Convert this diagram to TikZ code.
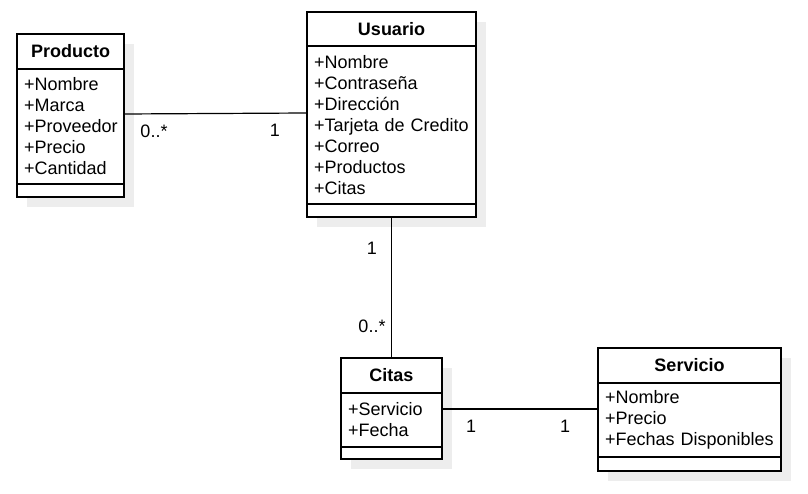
\documentclass[tikz,border=0pt]{standalone}
\usepackage{fontspec}
\setmainfont{Liberation Sans}
\usetikzlibrary{shadows}
\usetikzlibrary{calc}

\tikzset{
  umlpart/.style={draw, line width=1.2pt, fill=white, anchor=north west, outer sep=0pt,
    inner xsep=7pt, inner ysep=0pt,
    font=\fontsize{18}{21}\selectfont,
    drop shadow={shadow xshift=10pt, shadow yshift=-10pt, fill=black!7, opacity=1}},
  umltitle/.style={umlpart, font=\fontsize{18}{21}\selectfont\bfseries, minimum height=35pt},
  umlattr/.style={umlpart, align=left},
  umlops/.style={umlpart},
  mult/.style={font=\fontsize{18}{21}\selectfont, inner sep=0pt}
}

\begin{document}
\begin{tikzpicture}[x=1pt, y=-1pt]
  \useasboundingbox (0,0) rectangle (808,494);

  % Producto
  \node[umltitle, minimum width=107pt] (producto) at (17,34) {Producto};
  \node[umlattr, minimum width=107pt, text width=93pt, minimum height=115pt] (productoAttr) at (producto.south west)
    {+Nombre\\+Marca\\+Proveedor\\+Precio\\+Cantidad};
  \node[umlops, minimum width=107pt, minimum height=13pt] (productoOps) at (productoAttr.south west) {};

  % Usuario
  \node[umltitle, minimum width=169pt, minimum height=34pt] (usuario) at (307,12) {Usuario};
  \node[umlattr, minimum width=169pt, text width=155pt, minimum height=158pt] (usuarioAttr) at (usuario.south west)
    {+Nombre\\+Contraseña\\+Dirección\\+Tarjeta de Credito\\+Correo\\+Productos\\+Citas};
  \node[umlops, minimum width=169pt, minimum height=13pt] (usuarioOps) at (usuarioAttr.south west) {};

  % Citas
  \node[umltitle, minimum width=101pt] (citas) at (341,358) {Citas};
  \node[umlattr, minimum width=101pt, text width=87pt, minimum height=54pt] (citasAttr) at (citas.south west)
    {+Servicio\\+Fecha};
  \node[umlops, minimum width=101pt, minimum height=12pt] (citasOps) at (citasAttr.south west) {};

  % Servicio
  \node[umltitle, minimum width=183pt] (servicio) at (598,348) {Servicio};
  \node[umlattr, minimum width=183pt, text width=169pt, minimum height=74pt] (servicioAttr) at (servicio.south west)
    {+Nombre\\+Precio\\+Fechas Disponibles};
  \node[umlops, minimum width=183pt, minimum height=14pt] (servicioOps) at (servicioAttr.south west) {};

  % asociaciones
  \draw[line width=1.2pt] ([yshift=12.5pt]productoAttr.east) -- ([yshift=12pt]usuarioAttr.west);
  \draw[line width=1.2pt] (usuarioOps.south) -- (citas.north);
  \draw[line width=1.2pt] ([yshift=11pt]citasAttr.east) -- ([yshift=11pt]servicioAttr.west);

  \node[mult] (mProducto) at (154,131) {0..*};
  \node[mult] (mUsuarioP) at (275,130) {1};
  \node[mult] (mUsuarioC) at (372,248) {1};
  \node[mult] (mCitasU) at (372,326) {0..*};
  \node[mult] (mCitasS) at (471,426) {1};
  \node[mult] (mServicio) at (565,426) {1};
\end{tikzpicture}
\end{document}
